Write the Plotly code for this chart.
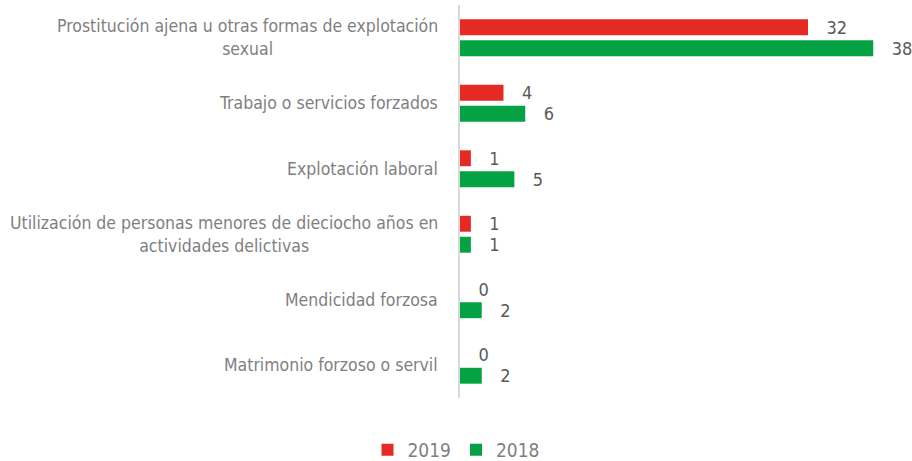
import plotly.graph_objects as go

# Tipos de explotación (de arriba abajo)
categorias = [
    "Prostitución ajena u otras formas de explotación<br>sexual",
    "Trabajo o servicios forzados",
    "Explotación laboral",
    "Utilización de personas menores de dieciocho años en<br>actividades delictivas",
    "Mendicidad forzosa",
    "Matrimonio forzoso o servil",
]
valores_2019 = [32, 4, 1, 1, 0, 0]
valores_2018 = [38, 6, 5, 1, 2, 2]

ROJO = "#E52A24"
VERDE = "#05A244"
FUENTE = "DejaVu Sans Condensed, Liberation Sans Narrow, sans-serif"

fig = go.Figure()
for nombre, vals, color in [("2019", valores_2019, ROJO), ("2018", valores_2018, VERDE)]:
    fig.add_trace(go.Bar(
        name=nombre,
        y=categorias,
        x=vals,
        orientation="h",
        marker=dict(color=color, line=dict(width=0)),
        text=vals,
        texttemplate="\u00a0\u00a0\u00a0%{x}",
        textposition="outside",
        constraintext="none",
        cliponaxis=False,
        textfont=dict(family=FUENTE, size=18, color="#595959"),
    ))

# Etiquetas de categoría centradas por línea, alineadas a la derecha
for cat in categorias:
    fig.add_annotation(
        x=0, xref="paper", y=cat, yref="y",
        text=cat, showarrow=False,
        xanchor="right", align="center", xshift=-20,
        font=dict(family=FUENTE, size=17.5, color="#7F7F7F"),
    )

fig.update_layout(
    width=912, height=461,
    margin=dict(l=460, r=17, t=5, b=63, autoexpand=False),
    paper_bgcolor="white", plot_bgcolor="white",
    barmode="group", bargap=0.36, bargroupgap=0.24,
    showlegend=True,
    legend=dict(
        orientation="h", x=0.5, xanchor="center", xref="container",
        y=-0.132, yanchor="middle", yref="paper",
        font=dict(family=FUENTE, size=19, color="#7F7F7F"),
        itemwidth=30, traceorder="normal",
    ),
    xaxis=dict(range=[0, 40], visible=False),
    yaxis=dict(
        autorange="reversed", showticklabels=False, ticks="",
        showline=True, linecolor="#D9D9D9", linewidth=2, showgrid=False,
    ),
)

fig.write_html("out.html")
